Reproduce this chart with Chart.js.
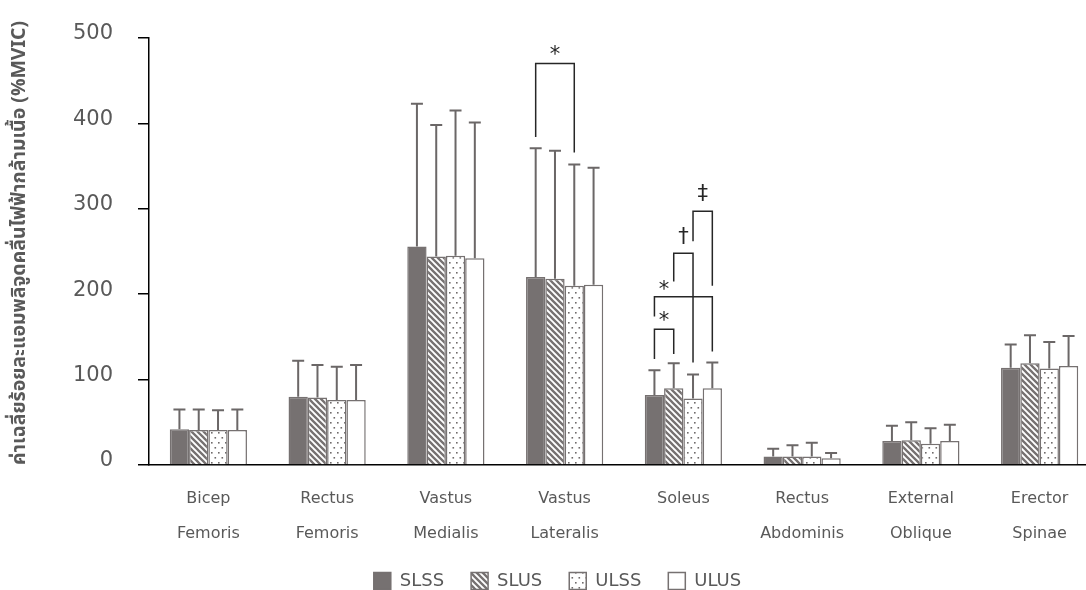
<!DOCTYPE html>
<html>
<head>
<meta charset="utf-8">
<script src="https://cdn.jsdelivr.net/npm/chart.js@4.4.1/dist/chart.umd.min.js"></script>
<style>
  html, body { margin: 0; padding: 0; background: #ffffff; overflow: hidden; }
  canvas { display: block; }
</style>
</head>
<body>
<canvas id="emg" width="1100" height="590"></canvas>
<script>
// Muscles (x categories)
const categories = [
  ['Bicep', 'Femoris'], ['Rectus', 'Femoris'], ['Vastus', 'Medialis'], ['Vastus', 'Lateralis'],
  ['Soleus'], ['Rectus', 'Abdominis'], ['External', 'Oblique'], ['Erector', 'Spinae']
];
const seriesNames = ['SLSS', 'SLUS', 'ULSS', 'ULUS'];

// Mean %MVIC per condition
const slssMean = [42, 80, 256, 220, 82, 10, 28, 114];
const slusMean = [41, 79, 244, 218, 90, 10, 29, 119];
const ulssMean = [41, 76, 245, 210, 78, 10, 25, 113];
const ulusMean = [41, 76, 242, 211, 90, 8, 28, 116];

// Standard deviations (upper error bars)
const slssSD = [23, 42, 167, 151, 29, 9, 18, 27];
const slusSD = [24, 38, 154, 150, 29, 13, 21, 33];
const ulssSD = [23, 39, 170, 142, 28, 16, 18, 31];
const ulusSD = [24, 41, 159, 137, 30, 6, 19, 35];

// Y axis
const yTicks = [0, 100, 200, 300, 400, 500];
const yTitle = 'ค่าเฉลี่ยร้อยละแอมพลิจูดคลื่นไฟฟ้ากล้ามเนื้อ (%MVIC)';

// Significance brackets: category index, bar indices joined, bracket top and leg ends (%MVIC)
const sigBrackets = [
  { cat: 3, from: 0, to: 2, top: 470, leftEnd: 384, rightEnd: 366, mark: '*', markAt: 1,   markY: 486 },
  { cat: 4, from: 0, to: 1, top: 159, leftEnd: 124, rightEnd: 130, mark: '*', markAt: 0.5, markY: 174 },
  { cat: 4, from: 0, to: 3, top: 197, leftEnd: 174, rightEnd: 133, mark: '*', markAt: 0.5, markY: 211 },
  { cat: 4, from: 1, to: 2, top: 248, leftEnd: 215, rightEnd: 120, mark: '†', markAt: 1.5, markY: 268 },
  { cat: 4, from: 2, to: 3, top: 297, leftEnd: 262, rightEnd: 210, mark: '‡', markAt: 2.5, markY: 318 }
];

const FONT = "'DejaVu Sans', 'Noto Sans', sans-serif";
const GREY = '#767171';
const TEXT = '#595959';

function stripePattern(fg) {
  const s = 6;
  const c = document.createElement('canvas');
  c.width = s; c.height = s;
  const g = c.getContext('2d');
  g.fillStyle = '#ffffff';
  g.fillRect(0, 0, s, s);
  g.strokeStyle = fg;
  g.lineWidth = 2.3;
  g.beginPath();
  for (let k = -1; k <= 1; k++) {
    g.moveTo(k * s - 1, -1);
    g.lineTo(k * s + s + 1, s + 1);
  }
  g.stroke();
  return g.createPattern(c, 'repeat');
}

function dotPattern(fg) {
  const w = 7, h = 10;
  const c = document.createElement('canvas');
  c.width = w; c.height = h;
  const g = c.getContext('2d');
  g.fillStyle = '#ffffff';
  g.fillRect(0, 0, w, h);
  g.fillStyle = fg;
  g.fillRect(1, 2, 1.6, 1.6);
  g.fillRect(4.5, 7, 1.6, 1.6);
  return g.createPattern(c, 'repeat');
}

const fills = [GREY, stripePattern(GREY), dotPattern('#6f6b6b'), '#ffffff'];
const means = [slssMean, slusMean, ulssMean, ulusMean];
const sds = [slssSD, slusSD, ulssSD, ulusSD];

const datasets = seriesNames.map((name, i) => ({
  label: name,
  data: means[i],
  sd: sds[i],
  backgroundColor: fills[i],
  borderColor: GREY,
  borderWidth: 1.5,
  categoryPercentage: 0.65,
  barPercentage: 1.0
}));

// Upper error bars with caps
const errorBars = {
  id: 'errorBars',
  afterDatasetsDraw(chart) {
    const ctx = chart.ctx;
    const y = chart.scales.y;
    ctx.save();
    ctx.strokeStyle = '#6b6767';
    ctx.lineWidth = 2;
    chart.data.datasets.forEach((ds, i) => {
      const meta = chart.getDatasetMeta(i);
      meta.data.forEach((bar, j) => {
        const yTop = y.getPixelForValue(ds.data[j] + ds.sd[j]);
        ctx.beginPath();
        ctx.moveTo(bar.x, bar.y);
        ctx.lineTo(bar.x, yTop);
        ctx.moveTo(bar.x - 6, yTop);
        ctx.lineTo(bar.x + 6, yTop);
        ctx.stroke();
      });
    });
    ctx.restore();
  }
};

// Significance brackets and their marks
const brackets = {
  id: 'brackets',
  afterDatasetsDraw(chart) {
    const ctx = chart.ctx;
    const y = chart.scales.y;
    const barX = (cat, idx) => {
      const lo = Math.floor(idx), hi = Math.ceil(idx);
      const a = chart.getDatasetMeta(lo).data[cat].x;
      const b = chart.getDatasetMeta(hi).data[cat].x;
      return a + (b - a) * (idx - lo);
    };
    ctx.save();
    ctx.strokeStyle = '#262626';
    ctx.lineWidth = 1.5;
    ctx.fillStyle = '#262626';
    ctx.font = '21px ' + FONT;
    ctx.textAlign = 'center';
    ctx.textBaseline = 'alphabetic';
    sigBrackets.forEach(b => {
      const x1 = barX(b.cat, b.from), x2 = barX(b.cat, b.to);
      const yt = y.getPixelForValue(b.top);
      ctx.beginPath();
      ctx.moveTo(x1, y.getPixelForValue(b.leftEnd));
      ctx.lineTo(x1, yt);
      ctx.lineTo(x2, yt);
      ctx.lineTo(x2, y.getPixelForValue(b.rightEnd));
      ctx.stroke();
      const m = ctx.measureText(b.mark);
      const my = y.getPixelForValue(b.markY);
      ctx.fillText(b.mark, barX(b.cat, b.markAt), my + (m.actualBoundingBoxAscent - m.actualBoundingBoxDescent) / 2);
    });
    ctx.restore();
  }
};

// Centre the legend row under the muscle groups
const legendShift = {
  id: 'legendShift',
  afterLayout(chart) {
    if (chart.legend) { chart.legend.left += 8; chart.legend.right += 8; }
  }
};

new Chart(document.getElementById('emg'), {
  type: 'bar',
  data: { labels: categories, datasets },
  plugins: [errorBars, brackets, legendShift],
  options: {
    responsive: false,
    animation: false,
    devicePixelRatio: 1,
    layout: { padding: { top: 38, left: 0, right: 1, bottom: -10 } },
    plugins: {
      tooltip: { enabled: false },
      legend: {
        position: 'bottom',
        labels: {
          boxWidth: 17, boxHeight: 17, padding: 27,
          color: TEXT, font: { family: FONT, size: 18 }
        }
      }
    },
    scales: {
      x: {
        grid: { display: false, drawTicks: false },
        border: { display: true, color: '#000000', width: 1.5 },
        ticks: {
          color: TEXT, padding: 16.5, autoSkip: false, maxRotation: 0,
          font: { family: FONT, size: 16, lineHeight: 2.1875 }
        },
        afterFit(s) { s.height = 80; }
      },
      y: {
        min: 0, max: 500,
        afterBuildTicks(s) { s.ticks = yTicks.map(v => ({ value: v })); },
        grid: { display: true, drawOnChartArea: false, drawTicks: true, tickLength: 11, color: '#000000', lineWidth: 1.5 },
        border: { display: true, color: '#000000', width: 1.5 },
        ticks: { color: TEXT, padding: 25, labelOffset: -4, font: { family: FONT, size: 21 } },
        title: {
          display: true, text: yTitle, color: TEXT, align: 'start',
          font: { family: "'Noto Sans Thai', 'Noto Sans', " + FONT, size: 19.5, weight: 'bold' },
          padding: { top: 9, bottom: 0 }
        },
        afterFit(s) { s.width = 149; }
      }
    }
  }
});
</script>
</body>
</html>
